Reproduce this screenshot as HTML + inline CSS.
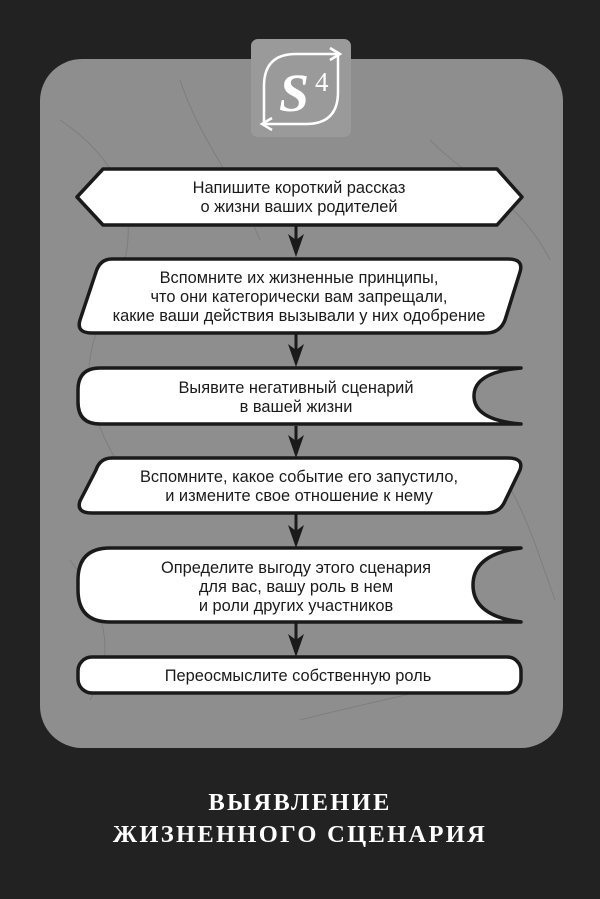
<!DOCTYPE html>
<html><head><meta charset="utf-8"><style>
html,body{margin:0;padding:0;background:#222;}
svg{display:block;}
</style></head><body>
<svg width="600" height="899" viewBox="0 0 600 899" xmlns="http://www.w3.org/2000/svg">
<rect width="600" height="899" fill="#222"/>
<rect x="40" y="59" width="523" height="689" rx="42" fill="#8e8e8e"/>
<g stroke="#777" stroke-width="1" fill="none" opacity="0.7">
<path d="M60 120 C120 160 150 220 110 300 S 90 420 140 500"/>
<path d="M180 80 C200 140 230 170 260 240"/>
<path d="M430 140 C470 180 520 200 550 260"/>
<path d="M300 720 C380 700 430 690 470 680"/>
<path d="M70 560 C100 600 120 650 90 700"/>
<path d="M500 470 C530 520 540 560 555 600"/>
</g>
<rect x="251" y="39" width="100" height="98" rx="7" fill="#9a9a9a"/>
<path d="M338 54 L296 54 Q264 54 264 86 L264 124" fill="none" stroke="#fff" stroke-width="2.5"/>
<path d="M264 124 L306 124 Q338 124 338 92 L338 54" fill="none" stroke="#fff" stroke-width="2.5"/>
<path d="M330 48 L340 54 L330 60" fill="none" stroke="#fff" stroke-width="2.5"/>
<path d="M272 118 L262 124 L272 130" fill="none" stroke="#fff" stroke-width="2.5"/>
<text x="294" y="111" font-family="Liberation Serif, serif" font-weight="bold" font-style="italic" font-size="54" fill="#fff" text-anchor="middle">S</text>
<text x="315" y="91" font-family="Liberation Serif, serif" font-size="27" fill="#fff">4</text>
<g fill="#1a1a1a" stroke="#1a1a1a">
<line x1="296" y1="226" x2="296" y2="245" stroke-width="3"/>
<path d="M288 234 L296 240 L304 234 L296 257 Z" stroke="none"/>
<line x1="296" y1="334" x2="296" y2="355" stroke-width="3"/>
<path d="M288 344 L296 350 L304 344 L296 367 Z" stroke="none"/>
<line x1="296" y1="426" x2="296" y2="445" stroke-width="3"/>
<path d="M288 435 L296 441 L304 435 L296 458 Z" stroke="none"/>
<line x1="296" y1="514" x2="296" y2="535" stroke-width="3"/>
<path d="M288 525 L296 531 L304 525 L296 548 Z" stroke="none"/>
<line x1="296" y1="623" x2="296" y2="644" stroke-width="3"/>
<path d="M288 634 L296 640 L304 634 L296 657 Z" stroke="none"/>
</g>
<g fill="#fff" stroke="#1a1a1a" stroke-width="3.5" stroke-linejoin="round">
<path d="M103 169 L497 169 L522 197 L497 225 L103 225 L77 197 Z"/>
<path d="M112 259 L508 259 Q524 259 520 272 L505 320 Q500 333 486 333 L92 333 Q76 333 80 320 L96 272 Q100 259 112 259 Z"/>
<path d="M521 368 Q474 372 474 396 Q474 420 521 424 L100 424 Q78 424 78 402 L78 390 Q78 368 100 368 Z"/>
<path d="M112 458 L508 458 Q524 458 520 470 L505 501 Q500 513 486 513 L92 513 Q76 513 80 501 L96 470 Q100 458 112 458 Z"/>
<path d="M521 548 Q473 554 473 585 Q473 616 521 622 L110 622 Q78 622 78 590 L78 580 Q78 548 110 548 Z"/>
<rect x="78" y="657" width="443" height="36" rx="14"/>
</g>
<g font-family="Liberation Sans, DejaVu Sans, sans-serif" font-size="16.4" fill="#1a1a1a" text-anchor="middle">
<text x="299" y="193">Напишите короткий рассказ</text>
<text x="299" y="212">о жизни ваших родителей</text>
<text x="299" y="283">Вспомните их жизненные принципы,</text>
<text x="299" y="302">что они категорически вам запрещали,</text>
<text x="299" y="321">какие ваши действия вызывали у них одобрение</text>
<text x="296" y="393">Выявите негативный сценарий</text>
<text x="296" y="412">в вашей жизни</text>
<text x="299" y="482">Вспомните, какое событие его запустило,</text>
<text x="299" y="501">и измените свое отношение к нему</text>
<text x="296" y="573">Определите выгоду этого сценария</text>
<text x="296" y="592">для вас, вашу роль в нем</text>
<text x="296" y="611">и роли других участников</text>
<text x="298" y="681">Переосмыслите собственную роль</text>
</g>
<g font-family="Liberation Serif, serif" font-weight="bold" font-size="24.5" fill="#fff" text-anchor="middle" letter-spacing="2.3">
<text x="300" y="810">ВЫЯВЛЕНИЕ</text>
<text x="300" y="842">ЖИЗНЕННОГО СЦЕНАРИЯ</text>
</g>
</svg>
</body></html>
